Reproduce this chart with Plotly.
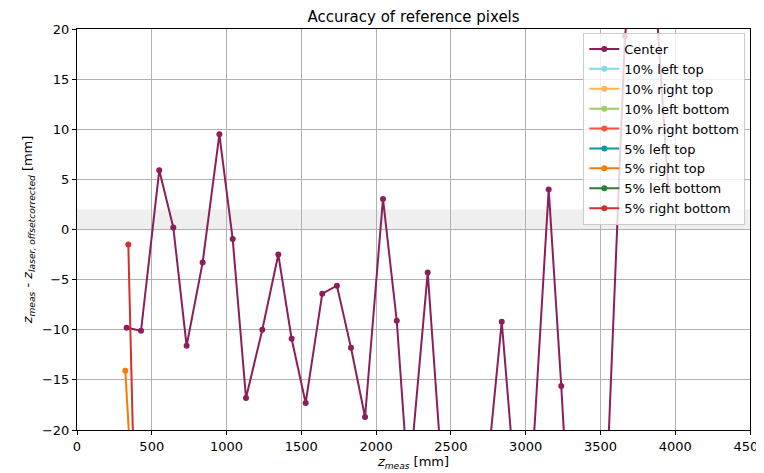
import plotly.graph_objects as go

# ---- data ----
center_x = [332, 428, 550, 644, 733, 840, 952, 1041, 1130, 1239, 1346, 1435, 1529, 1640,
            1738, 1832, 1926, 2046, 2138, 2217, 2345, 2440, 2540, 2640, 2740, 2840, 2940,
            3040, 3154, 3238, 3330, 3440, 3540, 3664, 3810, 3954]
center_y = [-9.8, -10.1, 5.9, 0.2, -11.6, -3.3, 9.5, -0.95, -16.8, -10.0, -2.5, -10.9, -17.3, -6.4,
            -5.6, -11.8, -18.7, 3.05, -9.1, -25.7, -4.3, -24.2, -30.0, -27.0, -24.5, -9.2, -27.3,
            -24.5, 4.0, -15.6, -40.0, -38.0, -26.1, 19.3, 37.0, 3.9]

p10_left_top_x = [330, 430]
p10_left_top_y = [-60.0, -80.0]
p10_right_top_x = [325, 430]
p10_right_top_y = [-55.0, -75.0]
p10_left_bottom_x = [330, 430]
p10_left_bottom_y = [-65.0, -85.0]
p10_right_bottom_x = [340, 430]
p10_right_bottom_y = [-50.0, -70.0]
p5_left_top_x = [330, 430]
p5_left_top_y = [-62.0, -82.0]
p5_right_top_x = [323, 430]
p5_right_top_y = [-14.1, -41.6]
p5_left_bottom_x = [330, 430]
p5_left_bottom_y = [-66.0, -88.0]
p5_right_bottom_x = [343, 430]
p5_right_bottom_y = [-1.5, -55.0]

series = [
    ("Center", center_x, center_y, "#8b1e5b"),
    ("10% left top", p10_left_top_x, p10_left_top_y, "#7fd9ee"),
    ("10% right top", p10_right_top_x, p10_right_top_y, "#ffb74d"),
    ("10% left bottom", p10_left_bottom_x, p10_left_bottom_y, "#9ccc65"),
    ("10% right bottom", p10_right_bottom_x, p10_right_bottom_y, "#ff4f3f"),
    ("5% left top", p5_left_top_x, p5_left_top_y, "#0a97a8"),
    ("5% right top", p5_right_top_x, p5_right_top_y, "#f57c00"),
    ("5% left bottom", p5_left_bottom_x, p5_left_bottom_y, "#2e7d32"),
    ("5% right bottom", p5_right_bottom_x, p5_right_bottom_y, "#d32f2f"),
]

x_ticks = [0, 500, 1000, 1500, 2000, 2500, 3000, 3500, 4000, 4500]
y_ticks = [-20, -15, -10, -5, 0, 5, 10, 15, 20]

FONT = "DejaVu Sans"

fig = go.Figure()

# tolerance band
fig.add_shape(type="rect", xref="paper", yref="y", x0=0, x1=1, y0=0, y1=2,
              fillcolor="rgba(128,128,128,0.13)", line=dict(width=0), layer="below")

for name, xs, ys, col in series:
    fig.add_trace(go.Scatter(
        x=xs, y=ys, name=name, mode="lines+markers",
        line=dict(color=col, width=2),
        marker=dict(color=col, size=6),
    ))

axis_common = dict(
    showline=True, mirror=True, linecolor="black", linewidth=1,
    ticks="outside", ticklen=4, tickcolor="black", tickwidth=1,
    showgrid=True, gridcolor="#b0b0b0", gridwidth=1, zeroline=False,
    tickfont=dict(family=FONT, size=13, color="black"),
    automargin=False, ticklabeloverflow="allow",
)

# the page body has an 8px margin, so the figure is 8px smaller and margins shifted
fig.update_layout(
    width=756, height=465,
    margin=dict(l=69, r=14, t=21, b=43, autoexpand=False),
    paper_bgcolor="white", plot_bgcolor="white",
    font=dict(family=FONT, size=13, color="black"),
    title=dict(text="Accuracy of reference pixels", x=0.5, xanchor="center", xref="paper",
               y=0.982, yanchor="middle", font=dict(family=FONT, size=15, color="black"),
               automargin=False),
    xaxis=dict(range=[0, 4500], tickvals=x_ticks,
               title=dict(text="<i>z</i><sub><i>meas</i></sub> [mm]", standoff=4,
                          font=dict(family=FONT, size=13)),
               **axis_common),
    yaxis=dict(range=[-20, 20], tickvals=y_ticks,
               title=dict(text="<i>z</i><sub><i>meas</i></sub> - <i>z</i><sub><i>laser, offsetcorrected</i></sub> [mm]",
                          standoff=6, font=dict(family=FONT, size=13)),
               **axis_common),
    legend=dict(x=0.993, xanchor="right", y=0.99, yanchor="top",
                bgcolor="rgba(255,255,255,0.8)", bordercolor="#cccccc", borderwidth=1,
                font=dict(family=FONT, size=13), tracegroupgap=0, itemwidth=30),
    showlegend=True,
)

fig.write_html("out.html")
